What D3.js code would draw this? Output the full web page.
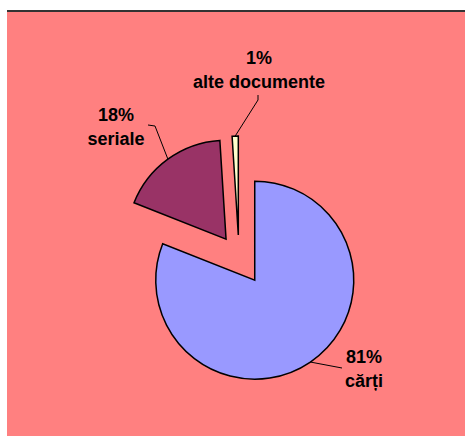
<!DOCTYPE html>
<html>
<head>
<meta charset="utf-8">
<script src="https://cdn.jsdelivr.net/npm/d3@7"></script>
<style>
  html, body { margin: 0; padding: 0; background: #ffffff; }
  svg { display: block; }
</style>
</head>
<body>
<svg id="chart" width="465" height="436"></svg>
<script>
// ---- data ----
const categories = ["cărți", "seriale", "alte documente"];
const values = [81, 18, 1];
const percentLabels = ["81%", "18%", "1%"];
const colors = ["#9999FF", "#993366", "#FFFFCC"];

// ---- layout constants ----
const W = 465, H = 436;
const cx = 239, cy = 257, R = 99;
const explode = [28, 22, 22];
// label placement relative to pie center: [dx, dy of percent baseline]
const labelOffsets = [[125, 106], [-123, -136], [20, -193]];
// leader line extra points relative to pie center (after the arc anchor)
const leaderPts = [
  [[103, 111]],
  [[-84, -131], [-91, -132]],
  [[19, -157], [19, -162]]
];

const svg = d3.select("#chart");

svg.append("rect")
  .attr("x", 7).attr("y", 10)
  .attr("width", W - 7).attr("height", H - 10)
  .attr("fill", "#FF8080");
svg.append("line")
  .attr("x1", 7).attr("x2", W)
  .attr("y1", 11).attr("y2", 11)
  .attr("stroke", "#333333").attr("stroke-width", 2);

const pie = d3.pie().sort(null).value(d => d);
const arcs = pie(values);
const arc = d3.arc().innerRadius(0).outerRadius(R);

const g = svg.append("g").attr("transform", `translate(${cx},${cy})`);

arcs.forEach((a, i) => {
  const mid = (a.startAngle + a.endAngle) / 2;
  const dx = Math.sin(mid) * explode[i];
  const dy = -Math.cos(mid) * explode[i];
  g.append("path")
    .attr("d", arc(a))
    .attr("transform", `translate(${dx},${dy})`)
    .attr("fill", colors[i])
    .attr("stroke", "#000")
    .attr("stroke-width", 1.5)
    .attr("stroke-linejoin", "miter");

  // leader line from outer arc at mid-angle
  const ax = dx + Math.sin(mid) * R;
  const ay = dy - Math.cos(mid) * R;
  const pts = [[ax, ay]].concat(leaderPts[i]);
  g.append("path")
    .attr("d", d3.line()(pts))
    .attr("fill", "none")
    .attr("stroke", "#000")
    .attr("stroke-width", 1);

  const t = g.append("text")
    .attr("x", labelOffsets[i][0])
    .attr("y", labelOffsets[i][1])
    .attr("text-anchor", "middle")
    .attr("font-family", "'Liberation Sans', Arial, sans-serif")
    .attr("font-weight", "bold")
    .attr("font-size", "18px")
    .attr("fill", "#000");
  t.append("tspan").attr("x", labelOffsets[i][0]).text(percentLabels[i]);
  t.append("tspan").attr("x", labelOffsets[i][0]).attr("dy", 24).text(categories[i]);
});
</script>
</body>
</html>
